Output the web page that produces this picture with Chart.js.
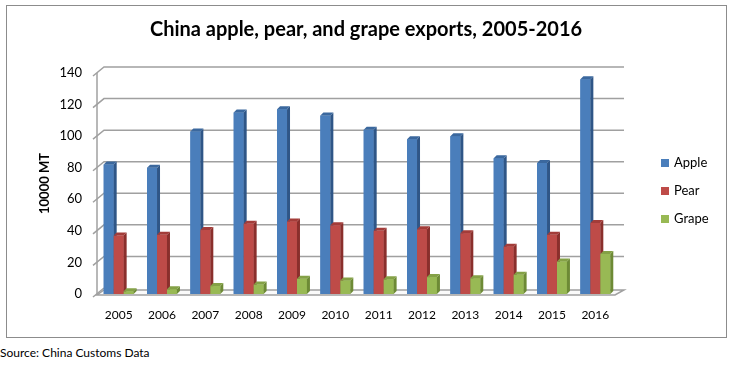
<!DOCTYPE html>
<html>
<head>
<meta charset="utf-8">
<script src="https://cdn.jsdelivr.net/npm/chart.js@4.4.1/dist/chart.umd.min.js"></script>
<style>
    body { margin: 0; background: #fff; }
    #wrap { position: relative; width: 732px; height: 370px; }
    #source { position: absolute; left: 0; top: 345px; font: 12px Lato, sans-serif; color: #000; }
</style>
</head>
<body>
<div id="wrap">
    <canvas id="exportsChart" width="732" height="340"></canvas>
    <div id="source">Source: China Customs Data</div>
</div>
<script>
const years = ['2005', '2006', '2007', '2008', '2009', '2010', '2011', '2012', '2013', '2014', '2015', '2016'];
const apple = [82, 80, 103, 115, 117, 113, 104, 98, 100, 86, 83, 136];
const pear = [37, 37.5, 40.5, 44.5, 46, 43.5, 40, 41, 38.5, 30, 37.5, 45];
const grape = [1.7, 3, 5, 6, 9.7, 8.6, 9.3, 10.7, 10, 12.2, 20.6, 25.4];

const frontColors = ['#4a7ebb', '#be4b48', '#98b954'];
const sideColors = ['#2f5687', '#8a2f2c', '#6d8a35'];
const topColors = ['#3b689e', '#a33c39', '#84a146'];

const wallDx = 7;
const wallDy = 6;
const barDepth = 3;

// back wall gridlines, left wall edge and floor
const wallPlugin = {
    id: 'wall',
    beforeDatasetsDraw(chart) {
        const ctx = chart.ctx;
        const area = chart.chartArea;
        const y = chart.scales.y;
        ctx.save();
        ctx.strokeStyle = '#a0a0a0';
        ctx.lineWidth = 1.5;
        y.ticks.forEach(t => {
            const py = y.getPixelForValue(t.value);
            ctx.beginPath();
            ctx.moveTo(area.left - 4, py + 3);
            ctx.lineTo(area.left + wallDx, py - wallDy);
            if (t.value !== 0) ctx.lineTo(area.right + wallDx, py - wallDy);
            ctx.stroke();
        });
        ctx.beginPath();
        ctx.moveTo(area.left, y.getPixelForValue(140));
        ctx.lineTo(area.left, area.bottom + 1);
        ctx.stroke();
        // floor
        ctx.fillStyle = '#fafafa';
        ctx.beginPath();
        ctx.moveTo(area.left, area.bottom + 1);
        ctx.lineTo(area.right - 2, area.bottom + 1);
        ctx.lineTo(area.right + wallDx, area.bottom - 4);
        ctx.lineTo(area.left + wallDx, area.bottom - 4);
        ctx.closePath();
        ctx.fill();
        ctx.stroke();
        ctx.restore();
    }
};

// redraw each group left to right with side and top faces
const bar3dPlugin = {
    id: 'bar3d',
    afterDatasetsDraw(chart) {
        const ctx = chart.ctx;
        const metas = chart.data.datasets.map((ds, i) => chart.getDatasetMeta(i));
        ctx.save();
        years.forEach((year, j) => {
            metas.forEach((meta, i) => {
                const p = meta.data[j].getProps(['x', 'y', 'base', 'width'], true);
                const l = p.x - p.width / 2;
                const r = p.x + p.width / 2;
                ctx.fillStyle = frontColors[i];
                ctx.fillRect(l, p.y, p.width, p.base - p.y);
                ctx.fillStyle = sideColors[i];
                ctx.beginPath();
                ctx.moveTo(r, p.y);
                ctx.lineTo(r + barDepth, p.y - barDepth);
                ctx.lineTo(r + barDepth, p.base - barDepth);
                ctx.lineTo(r, p.base);
                ctx.closePath();
                ctx.fill();
                ctx.fillStyle = topColors[i];
                ctx.beginPath();
                ctx.moveTo(l, p.y);
                ctx.lineTo(l + barDepth, p.y - barDepth);
                ctx.lineTo(r + barDepth, p.y - barDepth);
                ctx.lineTo(r, p.y);
                ctx.closePath();
                ctx.fill();
            });
        });
        ctx.restore();
    }
};

// legend on the right and outer border
const legendPlugin = {
    id: 'sideLegend',
    afterDraw(chart) {
        const ctx = chart.ctx;
        ctx.save();
        chart.data.datasets.forEach((ds, i) => {
            const cy = 163 + i * 28;
            ctx.fillStyle = frontColors[i];
            ctx.fillRect(661, cy - 4, 8, 8);
            ctx.fillStyle = '#000';
            ctx.font = '13px Lato';
            ctx.textBaseline = 'middle';
            ctx.fillText(ds.label, 674, cy);
        });
        ctx.strokeStyle = '#8c8c8c';
        ctx.lineWidth = 1;
        ctx.strokeRect(6.5, 5.5, 720, 332);
        ctx.restore();
    }
};

const ctx = document.getElementById('exportsChart').getContext('2d');

new Chart(ctx, {
    type: 'bar',
    data: {
        labels: years,
        datasets: [
            { label: 'Apple', data: apple, backgroundColor: frontColors[0] },
            { label: 'Pear', data: pear, backgroundColor: frontColors[1] },
            { label: 'Grape', data: grape, backgroundColor: frontColors[2] }
        ]
    },
    options: {
        responsive: false,
        animation: false,
        categoryPercentage: 0.69,
        barPercentage: 1.0,
        layout: {
            padding: 0
        },
        scales: {
            x: {
                grid: { display: false },
                border: { display: false },
                ticks: {
                    color: '#000',
                    padding: 6,
                    font: { family: 'Lato', size: 12 }
                },
                afterFit: scale => { scale.height = 46; }
            },
            y: {
                min: 0,
                max: 140,
                grid: { display: false },
                border: { display: false },
                ticks: {
                    stepSize: 20,
                    color: '#000',
                    padding: 7,
                    font: { family: 'Lato', size: 13 }
                },
                title: {
                    display: true,
                    text: '10000 MT',
                    color: '#000',
                    font: { family: 'Lato', size: 13, weight: 'bold' },
                    padding: { top: 37, bottom: 0 }
                },
                afterFit: scale => { scale.width = 97; }
            },
            // empty right axis that keeps room for the legend
            side: {
                position: 'right',
                display: true,
                grid: { display: false },
                border: { display: false },
                ticks: { display: false },
                afterFit: scale => { scale.width = 115; }
            }
        },
        plugins: {
            legend: { display: false },
            tooltip: { enabled: false },
            title: {
                display: true,
                text: 'China apple, pear, and grape exports, 2005-2016',
                color: '#000',
                font: { family: 'Lato', size: 20, weight: 'bold' },
                padding: { top: 18, bottom: 31 }
            }
        }
    },
    plugins: [wallPlugin, bar3dPlugin, legendPlugin]
});
</script>
</body>
</html>
